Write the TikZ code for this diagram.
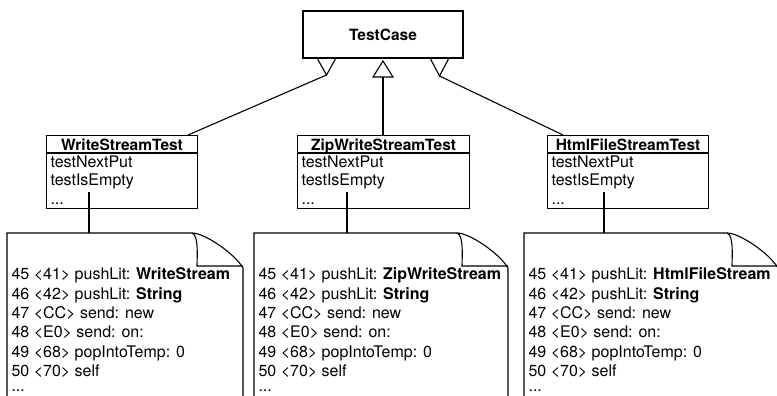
\documentclass[tikz,border=0pt]{standalone}
\usepackage{fontspec}
\setmainfont{TeX Gyre Heros}
\newcommand\mynote[2]{%
  \draw (#1,400) -- (#1,233) -- ({#2-51},233) .. controls ({#2-38},233) and ({#2-8},254) .. (#2,268) -- (#2,400);
  \draw ({#2-51},233) .. controls ({#2-44},235) and ({#2-46},258) .. ({#2-46},266) -- (#2,266);
}
\begin{document}
\begin{tikzpicture}[x=1pt,y=-1pt,line width=1.1pt,
  box/.style={draw,rectangle,inner sep=0pt,line width=1.1pt},
  titletext/.style={font=\fontsize{15.5}{19}\selectfont\bfseries,inner sep=0pt,anchor=base},
  itemtext/.style={font=\fontsize{16}{19}\selectfont,inner sep=0pt,anchor=base west},
  notetext/.style={font=\fontsize{16}{19.3}\selectfont,inner sep=0pt,anchor=north west,align=left},
  conn/.style={line width=1.1pt}]
\useasboundingbox (0,0) rectangle (777,396);

% TestCase
\node[box,minimum width=160pt,minimum height=47pt,font=\fontsize{15.5}{19}\selectfont\bfseries] (tc) at (383,34.5) {TestCase};

% triangles
\draw (317,58) -- (336,58) -- (326.5,75) -- cycle;
\coordinate (t1) at (326.5,75);
\draw (383,61) -- (393,77) -- (373,77) -- cycle;
\coordinate (t2) at (383,77);
\draw (430,58) -- (449,58) -- (439.5,76) -- cycle;
\coordinate (t3) at (439.5,76);

% class boxes
\node[box,minimum width=151pt,minimum height=73pt,anchor=north west] (ws) at (46,135) {};
\draw ([yshift=-18pt]ws.north west) -- ([yshift=-18pt]ws.north east);
\node[titletext] (wst) at (ws.north |- 0,150) {WriteStreamTest};
\node[itemtext] (ws1) at (50,167) {testNextPut};
\node[itemtext] (ws2) at (50,185) {testIsEmpty};
\node[itemtext] (ws3) at (50,204) {...};

\node[box,minimum width=172pt,minimum height=73pt,anchor=north west] (zs) at (297,135) {};
\draw ([yshift=-18pt]zs.north west) -- ([yshift=-18pt]zs.north east);
\node[titletext] (zst) at (zs.north |- 0,150) {ZipWriteStreamTest};
\node[itemtext] (zs1) at (301,167) {testNextPut};
\node[itemtext] (zs2) at (301,185) {testIsEmpty};
\node[itemtext] (zs3) at (301,204) {...};

\node[box,minimum width=161pt,minimum height=73pt,anchor=north west] (hs) at (547,135) {};
\draw ([yshift=-18pt]hs.north west) -- ([yshift=-18pt]hs.north east);
\node[titletext] (hst) at (hs.north |- 0,150) {HtmlFileStreamTest};
\node[itemtext] (hs1) at (551,167) {testNextPut};
\node[itemtext] (hs2) at (551,185) {testIsEmpty};
\node[itemtext] (hs3) at (551,204) {...};

% inheritance connectors
\coordinate (ws0) at (188,135);
\coordinate (zs0) at (383,135);
\coordinate (hs0) at (563,135);
\draw[conn] (t1) -- (ws0);
\draw[conn] (t2) -- (zs0);
\draw[conn] (t3) -- (hs0);

% notes
\mynote{7}{243}
\mynote{254}{508}
\mynote{524}{778}
\coordinate (n1) at (89,233);
\coordinate (n2) at (347,233);
\coordinate (n3) at (604,233);
\coordinate (a1) at (89,192);
\coordinate (a2) at (347,192);
\coordinate (a3) at (604,192);
\draw[conn] (a1) -- (n1);
\draw[conn] (a2) -- (n2);
\draw[conn] (a3) -- (n3);

\node[notetext] (nt1) at (11,267.5) {45 <41> pushLit: \textbf{WriteStream}\\46 <42> pushLit: \textbf{String}\\47 <CC> send: new\\48 <E0> send: on:\\49 <68> popIntoTemp: 0\\50 <70> self\\[-4pt]...};
\node[notetext] (nt2) at (258,267.5) {45 <41> pushLit: \textbf{ZipWriteStream}\\46 <42> pushLit: \textbf{String}\\47 <CC> send: new\\48 <E0> send: on:\\49 <68> popIntoTemp: 0\\50 <70> self\\[-4pt]...};
\node[notetext] (nt3) at (528,267.5) {45 <41> pushLit: \textbf{HtmlFileStream}\\46 <42> pushLit: \textbf{String}\\47 <CC> send: new\\48 <E0> send: on:\\49 <68> popIntoTemp: 0\\50 <70> self\\[-4pt]...};
\end{tikzpicture}
\end{document}
